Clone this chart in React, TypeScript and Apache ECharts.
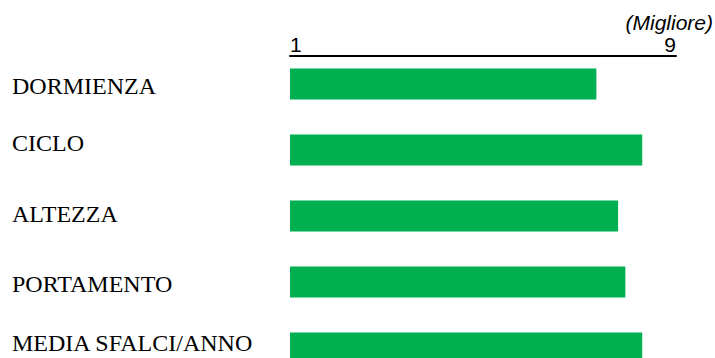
import React, { useEffect, useRef } from "react";
import * as echarts from "echarts";

const categories = ["DORMIENZA", "CICLO", "ALTEZZA", "PORTAMENTO", "MEDIA SFALCI/ANNO"];
const values = [7.35, 8.3, 7.8, 7.95, 8.3];
const tickLabels = [1, 9];
const bestLabel = "(Migliore)";

const labelFont = {
  color: "#000",
  fontFamily: "Liberation Serif, serif",
  fontSize: 24,
};
// small per-label vertical nudges (top, bottom padding)
const labelPads: [number, number][] = [[4, 0], [0, 14], [0, 4], [4, 0], [0, 10]];

export default function App() {
  const ref = useRef<HTMLDivElement>(null);
  useEffect(() => {
    document.body.style.margin = "0";
    document.body.style.overflow = "hidden";
    const chart = echarts.init(ref.current!, undefined, { renderer: "svg" });
    const rich: Record<string, any> = {};
    labelPads.forEach(([t, b], i) => {
      rich["l" + i] = { ...labelFont, padding: [t, 0, b, 0] };
    });
    chart.setOption({
      animation: false,
      backgroundColor: "#ffffff",
      grid: { left: 290, right: 39, top: 51, height: 330 },
      xAxis: {
        type: "value",
        position: "top",
        min: 1,
        max: 9,
        interval: 1,
        offset: -5,
        axisLine: { show: true, lineStyle: { color: "#000", width: 2 } },
        axisTick: { show: false },
        splitLine: { show: false },
        axisLabel: {
          show: true,
          margin: 1,
          color: "#000",
          fontFamily: "Liberation Sans, Arial",
          fontSize: 21,
          alignMinLabel: "left",
          alignMaxLabel: "right",
          formatter: (v: number) => (tickLabels.includes(v) ? String(v) : ""),
        },
      },
      yAxis: {
        type: "category",
        inverse: true,
        data: categories,
        axisLine: { show: false },
        axisTick: { show: false },
        splitLine: { show: false },
        axisLabel: {
          align: "left",
          margin: 278,
          ...labelFont,
          formatter: (v: string, i: number) => `{l${i}|${v}}`,
          rich,
        },
      },
      graphic: [
        {
          type: "text",
          right: 2,
          top: 12,
          style: {
            text: bestLabel,
            fill: "#000",
            font: "italic 21px 'Liberation Sans', Arial",
          },
        },
      ],
      series: [
        {
          type: "bar",
          data: values,
          barWidth: 31,
          clip: true,
          itemStyle: { color: "#00B050" },
        },
      ],
    });
    return () => chart.dispose();
  }, []);
  return <div ref={ref} style={{ width: 715, height: 400 }} />;
}
